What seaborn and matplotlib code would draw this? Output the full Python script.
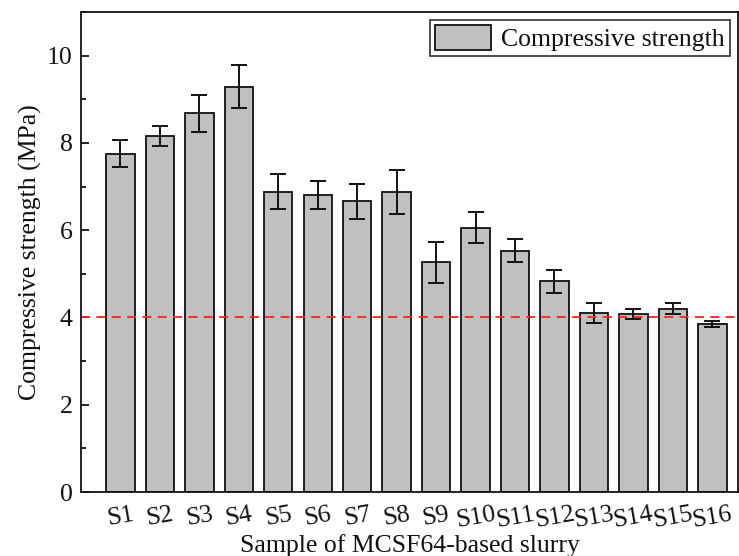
import matplotlib
matplotlib.use("Agg")
import matplotlib.pyplot as plt
from matplotlib.ticker import MultipleLocator
import seaborn as sns
import pandas as pd

samples = ["S1", "S2", "S3", "S4", "S5", "S6", "S7", "S8",
           "S9", "S10", "S11", "S12", "S13", "S14", "S15", "S16"]
strength = [7.75, 8.16, 8.68, 9.29, 6.88, 6.81, 6.66, 6.87,
            5.26, 6.06, 5.53, 4.83, 4.11, 4.08, 4.20, 3.85]
strength_err = [0.31, 0.23, 0.42, 0.49, 0.40, 0.32, 0.40, 0.50,
                0.47, 0.35, 0.27, 0.26, 0.23, 0.11, 0.13, 0.08]
threshold = 4.0

sns.set_theme(style="ticks")
plt.rcParams["font.family"] = ["Liberation Serif", "DejaVu Serif"]
plt.rcParams["mathtext.fontset"] = "stix"

FS = 18.5
INK = "#111111"

df = pd.DataFrame({"sample": samples, "strength": strength})

fig = plt.figure(figsize=(7.39, 5.56), dpi=100)
ax = fig.add_axes([0.1096, 0.1151, 0.8890, 0.8633])

sns.barplot(data=df, x="sample", y="strength", color="#c0c0c0",
            edgecolor=INK, linewidth=1.3, width=0.72,
            saturation=1, errorbar=None, ax=ax, label="Compressive strength")
ax.errorbar(range(len(samples)), strength, yerr=strength_err, fmt="none",
            ecolor=INK, elinewidth=1.4, capsize=5.5, capthick=1.4)
ax.axhline(threshold, color="#ff2020", linestyle=(0, (5, 3.5)), linewidth=1.3)

ax.set_xlim(-1.0, 15.65)
ax.set_ylim(0, 11)
ax.yaxis.set_major_locator(MultipleLocator(2))
ax.yaxis.set_minor_locator(MultipleLocator(1))
ax.tick_params(axis="both", which="both", direction="in", width=1.3,
               labelsize=FS, colors=INK)
ax.tick_params(axis="both", which="major", length=6)
ax.tick_params(axis="y", which="minor", length=3.5)
ax.tick_params(axis="x", pad=8)
ax.tick_params(axis="y", pad=6)
for lbl in ax.get_xticklabels():
    lbl.set_rotation(10)
for s in ax.spines.values():
    s.set_linewidth(1.3)
    s.set_color(INK)

ax.set_xlabel("Sample of MCSF64-based slurry", fontsize=FS, color=INK)
ax.xaxis.set_label_coords(0.5, -0.088)
ax.set_ylabel("Compressive strength (MPa)", fontsize=FS, color=INK)
ax.yaxis.set_label_coords(-0.06, 0.5)

leg = ax.legend(loc="upper right", fontsize=FS, frameon=True, fancybox=False,
                edgecolor=INK, handlelength=2.2, handleheight=1.1,
                borderpad=0.2, borderaxespad=0.3, handletextpad=0.4)
leg.get_frame().set_linewidth(1.3)
for t in leg.get_texts():
    t.set_color(INK)

fig.savefig("out.png", dpi=100)
